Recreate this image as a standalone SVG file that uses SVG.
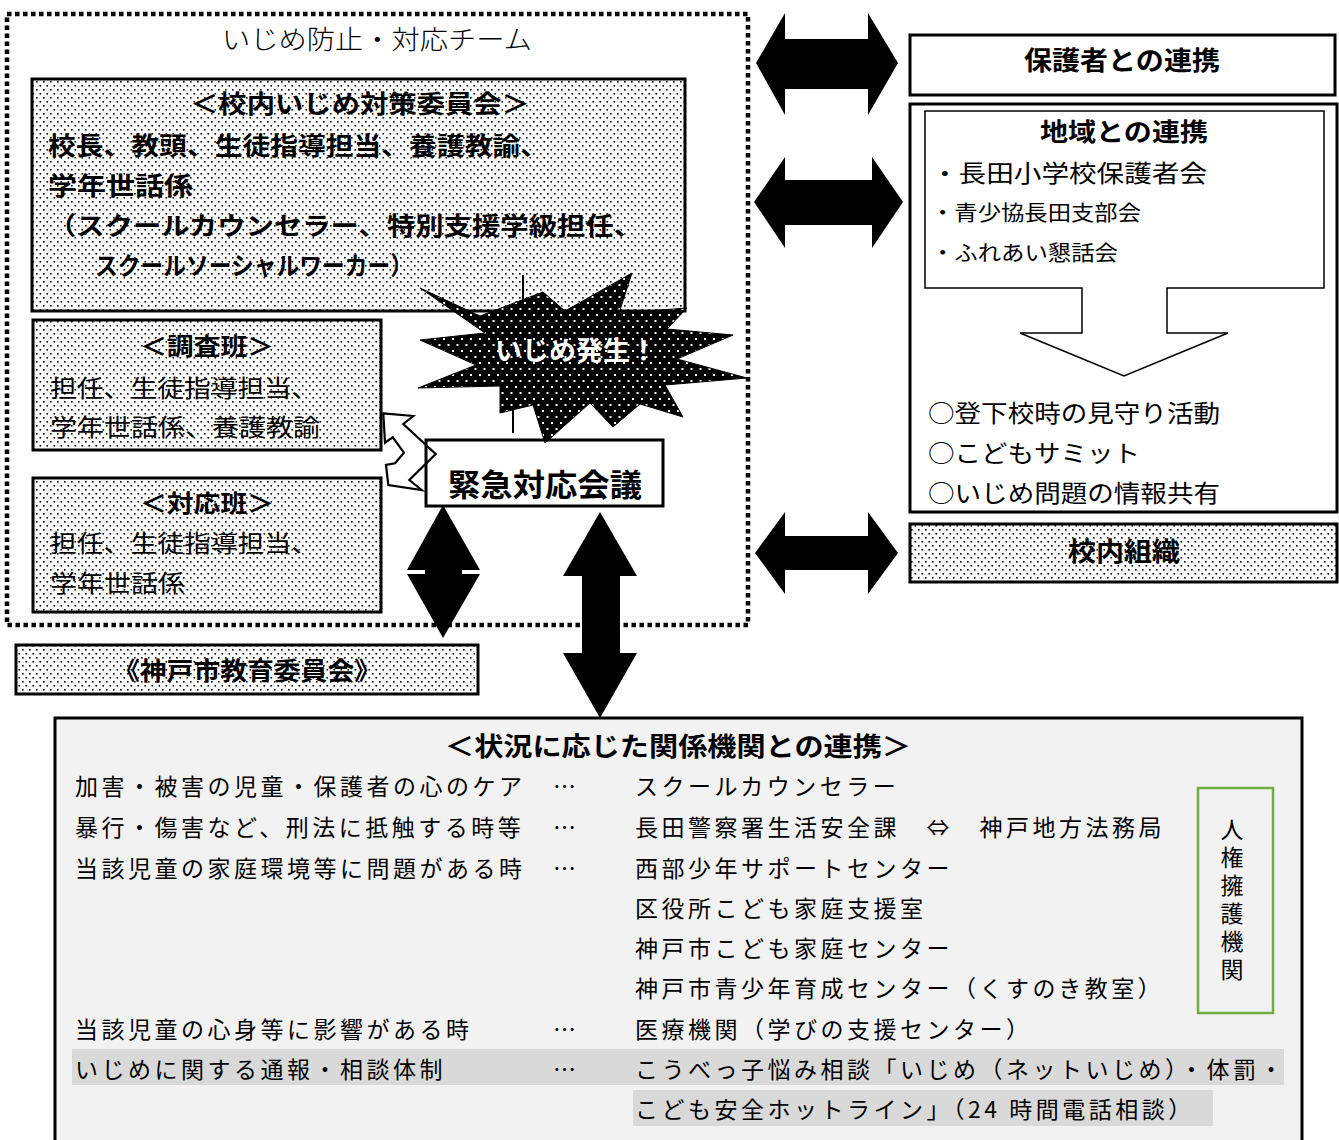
<svg xmlns="http://www.w3.org/2000/svg" width="1339" height="1140" viewBox="0 0 1339 1140">
<defs>
<pattern id="dots" width="7" height="8" patternUnits="userSpaceOnUse"><rect width="7" height="8" fill="#fff"/><rect x="1" y="1" width="1.6" height="1.6" fill="#000"/><rect x="4.5" y="5" width="1.6" height="1.6" fill="#000"/></pattern>
<pattern id="wdots" width="9" height="12" patternUnits="userSpaceOnUse"><rect width="9" height="12" fill="#000"/><rect x="2" y="2" width="2" height="2" fill="#fff"/><rect x="6.5" y="8" width="2" height="2" fill="#fff"/></pattern>
</defs>
<style>
text{font-family:"Noto Sans CJK JP","Noto Sans CJK SC",sans-serif;fill:#000}
.b{font-weight:bold}
.box{stroke:#000;stroke-width:3}
.dot{fill:url(#dots)}
.arr{fill:#000;stroke:none}
.row{font-size:23px;letter-spacing:3.5px}
</style>
<rect width="1339" height="1140" fill="#fff"/>

<g id="team">
<rect x="7" y="14" width="741" height="611" fill="none" stroke="#000" stroke-width="4.5" stroke-dasharray="4.5 3.5"/>
<text x="377" y="49" font-size="26" text-anchor="middle" textLength="310" lengthAdjust="spacingAndGlyphs" font-weight="300">いじめ防止・対応チーム</text>
</g>

<g id="committee">
<rect x="32" y="79" width="653" height="232" class="box dot"/>
<text class="b" x="360" y="113" font-size="25" text-anchor="middle" textLength="340" lengthAdjust="spacingAndGlyphs">＜校内いじめ対策委員会＞</text>
<text class="b" x="48" y="155" font-size="25" textLength="500" lengthAdjust="spacingAndGlyphs">校長、教頭、生徒指導担当、養護教諭、</text>
<text class="b" x="48" y="195" font-size="25" textLength="145" lengthAdjust="spacingAndGlyphs">学年世話係</text>
<text class="b" x="48" y="235" font-size="25" textLength="594" lengthAdjust="spacingAndGlyphs">（スクールカウンセラー、特別支援学級担任、</text>
<text class="b" x="95" y="275" font-size="25" textLength="318" lengthAdjust="spacingAndGlyphs">スクールソーシャルワーカー）</text>
</g>

<g id="chosa">
<rect x="33" y="320" width="348" height="130" class="box dot"/>
<text class="b" x="207" y="355" font-size="24" text-anchor="middle" textLength="134" lengthAdjust="spacingAndGlyphs">＜調査班＞</text>
<text x="50" y="397" font-size="24" textLength="268" lengthAdjust="spacingAndGlyphs">担任、生徒指導担当、</text>
<text x="50" y="436" font-size="24" textLength="270" lengthAdjust="spacingAndGlyphs">学年世話係、養護教諭</text>
</g>

<g id="taio">
<rect x="33" y="478" width="348" height="134" class="box dot"/>
<text class="b" x="207" y="512" font-size="24" text-anchor="middle" textLength="134" lengthAdjust="spacingAndGlyphs">＜対応班＞</text>
<text x="50" y="552" font-size="24" textLength="268" lengthAdjust="spacingAndGlyphs">担任、生徒指導担当、</text>
<text x="50" y="592" font-size="24" textLength="135" lengthAdjust="spacingAndGlyphs">学年世話係</text>
</g>

<g id="connectors">
<line x1="523" y1="275" x2="523" y2="330" stroke="#000" stroke-width="2"/>
<line x1="513" y1="385" x2="513" y2="433" stroke="#000" stroke-width="2"/>
<polygon points="383.3,413.3 413.3,416 403.3,424 435.7,454 409.3,480 421.7,490 388.3,485 386,465 395,463.3 404,452.7 392.7,437.3 385,442.7" fill="#fff" stroke="#000" stroke-width="2.2" stroke-linejoin="miter"/>
<polygon class="arr" points="443,505 480,570 462,570 462,574 480,574 443,638 407,574 425,574 425,570 407,570"/>
<polygon class="arr" points="600,512 637,576 620,576 620,653 637,653 600,718 563,653 582,653 582,576 563,576"/>
<polygon class="arr" points="756,63 785,13 785,39 868,39 868,13 898,63 868,115 868,89 785,89 785,115"/>
<polygon class="arr" points="754,202 785,157 785,180 872,180 872,157 903,202 872,248 872,225 785,225 785,248"/>
<polygon class="arr" points="755,553 785,512 785,536 868,536 868,512 898,553 868,594 868,570 785,570 785,594"/>
</g>

<g id="incident">
<polygon points="420,288 480,316 543,292 565,311 632,273 619,313 687,308 667,329 733,335 677,359 747,378 665,385 683,417 640,404 613,427 590,403 545,443 533,405 500,413 500,386 418,388 476,365 420,340 485,333" fill="url(#wdots)" stroke="#000" stroke-width="1"/>
<text class="b" x="576" y="360" font-size="26" text-anchor="middle" textLength="162" lengthAdjust="spacingAndGlyphs" style="fill:#fff">いじめ発生！</text>
</g>

<g id="emergency">
<rect x="426" y="440" width="237" height="66" fill="none" class="box"/>
<text class="b" x="545" y="496" font-size="31" text-anchor="middle" textLength="194" lengthAdjust="spacingAndGlyphs">緊急対応会議</text>
</g>

<g id="parents">
<rect x="910" y="35" width="425" height="60" fill="#fff" class="box"/>
<text class="b" x="1122" y="70" font-size="26" text-anchor="middle" textLength="196" lengthAdjust="spacingAndGlyphs">保護者との連携</text>
</g>

<g id="community">
<rect x="910" y="104" width="427" height="408" fill="#fff" class="box"/>
<path d="M925,111 H1324 V288 H1167 V333 H1228 L1124,376 L1020,333 H1082 V288 H925 Z" fill="none" stroke="#000" stroke-width="1.5"/>
<text class="b" x="1124" y="141" font-size="25" text-anchor="middle" textLength="168" lengthAdjust="spacingAndGlyphs">地域との連携</text>
<text x="931" y="182" font-size="24" textLength="276" lengthAdjust="spacingAndGlyphs">・長田小学校保護者会</text>
<text x="931" y="220" font-size="21" textLength="210" lengthAdjust="spacingAndGlyphs">・青少協長田支部会</text>
<text x="931" y="260" font-size="21" textLength="187" lengthAdjust="spacingAndGlyphs">・ふれあい懇話会</text>
<text x="928" y="422" font-size="24" textLength="292" lengthAdjust="spacingAndGlyphs">○登下校時の見守り活動</text>
<text x="928" y="462" font-size="24" textLength="212" lengthAdjust="spacingAndGlyphs">○こどもサミット</text>
<text x="928" y="502" font-size="24" textLength="292" lengthAdjust="spacingAndGlyphs">○いじめ問題の情報共有</text>
</g>

<g id="school-org">
<rect x="910" y="524" width="427" height="58" class="box dot"/>
<text class="b" x="1124" y="561" font-size="26" text-anchor="middle" textLength="112" lengthAdjust="spacingAndGlyphs">校内組織</text>
</g>

<g id="board">
<rect x="16" y="645" width="462" height="49" class="box dot"/>
<text class="b" x="247" y="680" font-size="25" text-anchor="middle" textLength="268" lengthAdjust="spacingAndGlyphs">《神戸市教育委員会》</text>
</g>

<g id="agencies">
<rect x="55" y="718" width="1247" height="430" fill="#f2f2f2" class="box"/>
<rect x="72" y="1049" width="1212" height="36" fill="#d9d9d9"/>
<rect x="633" y="1090" width="580" height="36" fill="#d9d9d9"/>
<text class="b" x="678" y="756" font-size="26" text-anchor="middle" textLength="466" lengthAdjust="spacingAndGlyphs">＜状況に応じた関係機関との連携＞</text>
<g class="row">
<text x="75" y="795">加害・被害の児童・保護者の心のケア</text>
<text x="75" y="836">暴行・傷害など、刑法に抵触する時等</text>
<text x="75" y="877">当該児童の家庭環境等に問題がある時</text>
<text x="75" y="1038">当該児童の心身等に影響がある時</text>
<text x="75" y="1078">いじめに関する通報・相談体制</text>
<text x="553" y="795">…</text>
<text x="553" y="836">…</text>
<text x="553" y="877">…</text>
<text x="553" y="1038">…</text>
<text x="553" y="1078">…</text>
<text x="635" y="795">スクールカウンセラー</text>
<text x="635" y="836">長田警察署生活安全課　⇔　神戸地方法務局</text>
<text x="635" y="877">西部少年サポートセンター</text>
<text x="635" y="917">区役所こども家庭支援室</text>
<text x="635" y="957">神戸市こども家庭センター</text>
<text x="635" y="997">神戸市青少年育成センター（くすのき教室）</text>
<text x="635" y="1038">医療機関（学びの支援センター）</text>
<text x="635" y="1078">こうべっ子悩み相談「いじめ（ネットいじめ）・体罰・</text>
<text x="635" y="1118">こども安全ホットライン」（24 時間電話相談）</text>
</g>
</g>

<g id="human-rights">
<rect x="1198" y="788" width="75" height="225" fill="none" stroke="#70ad47" stroke-width="2.5"/>
<text x="1232" y="818" font-size="23" writing-mode="vertical-rl" letter-spacing="5">人権擁護機関</text>
</g>
</svg>
